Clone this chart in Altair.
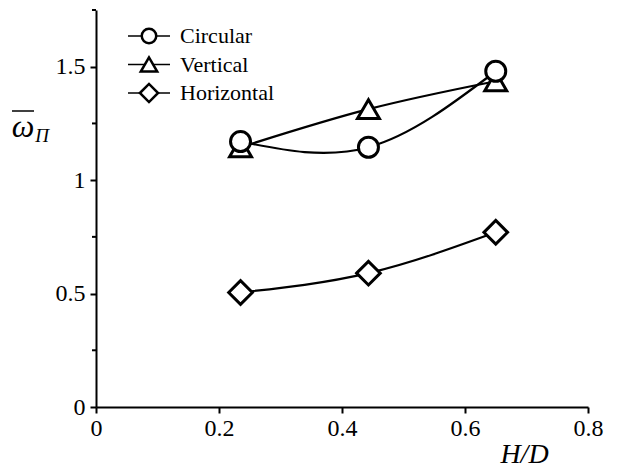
import altair as alt
import pandas as pd

# ---- data ----
hd = [0.235, 0.443, 0.650]
series_names = ["Circular", "Vertical", "Horizontal"]
circular = [1.17, 1.145, 1.48]
vertical = [1.145, 1.313, 1.436]
horizontal = [0.505, 0.59, 0.77]
shapes = ["circle", "triangle-up", "diamond"]
marker_sizes = [400, 560, 400]
legend_sizes = [210, 330, 300]
x_ticks = [0, 0.2, 0.4, 0.6, 0.8]
y_ticks = [0, 0.5, 1, 1.5]
y_minor = [0.25, 0.75, 1.25, 1.75]

rows = []
# drawing order: vertical first, then horizontal, then circular on top
for name, vals in [("Vertical", vertical), ("Horizontal", horizontal), ("Circular", circular)]:
    for xv, yv in zip(hd, vals):
        rows.append({"hd": xv, "w": yv, "series": name})
df = pd.DataFrame(rows)
df_leg = pd.DataFrame({"series": series_names, "row": list(range(len(series_names)))})
df_minor = pd.DataFrame({"w": y_minor})

FONT = "Liberation Serif"
xscale = alt.Scale(domain=[0, 0.8], nice=False, zero=False)
yscale = alt.Scale(domain=[0, 1.75], nice=False, zero=False)
shape_scale = alt.Scale(domain=series_names, range=shapes)

x_axis = alt.Axis(
    values=x_ticks, format="~g", title="H/D", titleFont=FONT, titleFontStyle="italic",
    titleFontWeight="normal", titleFontSize=28, titleColor="black",
    titleX=428, titleY=55, titleAlign="center", titleBaseline="alphabetic",
    labelFont=FONT, labelFontSize=24, labelColor="black", labelPadding=3,
    domainColor="black", domainWidth=2, tickColor="black", tickWidth=2, tickSize=6,
    grid=False, labelFlush=False)
y_enc = alt.Y("w:Q", scale=yscale, axis=alt.Axis(
    values=y_ticks, format="~g", title=None,
    labelFont=FONT, labelFontSize=24, labelColor="black", labelPadding=5,
    domainColor="black", domainWidth=2, tickColor="black", tickWidth=2, tickSize=6,
    grid=False, labelFlush=False))

lines = alt.Chart(df).mark_line(interpolate="natural", color="black", strokeWidth=2.2).encode(
    x=alt.X("hd:Q", scale=xscale, axis=x_axis), y=y_enc, detail="series:N")

points = alt.Chart(df).mark_point(fill="white", fillOpacity=1, stroke="black",
                                  strokeWidth=3, opacity=1).encode(
    x=alt.X("hd:Q", scale=xscale, axis=x_axis),
    y=alt.Y("w:Q", scale=yscale, axis=None),
    shape=alt.Shape("series:N", scale=shape_scale, legend=None),
    size=alt.Size("series:N", scale=alt.Scale(domain=series_names, range=marker_sizes), legend=None),
)

minor = alt.Chart(df_minor).mark_rule(color="black", strokeWidth=2).encode(
    y=alt.Y("w:Q", scale=yscale, axis=None),
    x=alt.value(-4), x2=alt.value(0))

# manual legend
leg_y = alt.Y("row:Q", scale=alt.Scale(domain=[0, 2], range=[26, 83]), axis=None)
leg_lines = alt.Chart(df_leg).mark_rule(color="black", strokeWidth=1.6).encode(
    y=leg_y, x=alt.value(32), x2=alt.value(74))
leg_pts = alt.Chart(df_leg).mark_point(fill="white", fillOpacity=1, stroke="black",
                                       strokeWidth=2.5, opacity=1).encode(
    y=leg_y, x=alt.value(53),
    shape=alt.Shape("series:N", scale=shape_scale, legend=None),
    size=alt.Size("series:N", scale=alt.Scale(domain=series_names, range=legend_sizes), legend=None))
leg_txt = alt.Chart(df_leg).mark_text(align="left", baseline="middle", font=FONT,
                                      fontSize=22, color="black").encode(
    y=leg_y, x=alt.value(84), text="series:N")

# y axis title: overlined omega with subscript Pi
omega = alt.Chart(df_leg.head(1)).mark_text(font=FONT, fontSize=32, fontStyle="italic",
                                            align="center", baseline="alphabetic", color="black").encode(
    x=alt.value(-73), y=alt.value(127), text=alt.value("ω"))
pi_sub = alt.Chart(df_leg.head(1)).mark_text(font=FONT, fontSize=19, fontStyle="italic",
                                             align="center", baseline="alphabetic", color="black").encode(
    x=alt.value(-54), y=alt.value(132), text=alt.value("Π"))
overline = alt.Chart(df_leg.head(1)).mark_rule(color="black", strokeWidth=1.5).encode(
    x=alt.value(-84), x2=alt.value(-62), y=alt.value(101))

chart = alt.layer(lines, points, minor, leg_lines, leg_pts, leg_txt, omega, pi_sub, overline).resolve_scale(
    y="independent", shape="shared", size="independent"
).properties(
    width=492, height=397,
    autosize=alt.AutoSizeParams(type="none"),
    padding={"left": 88, "top": 2, "right": 21, "bottom": 61},
    background="white",
).configure_view(stroke=None).configure_axis(labelFont=FONT, titleFont=FONT, labelFontSize=24)

chart.save("out.html", embed_options={"renderer": "svg", "actions": False})
